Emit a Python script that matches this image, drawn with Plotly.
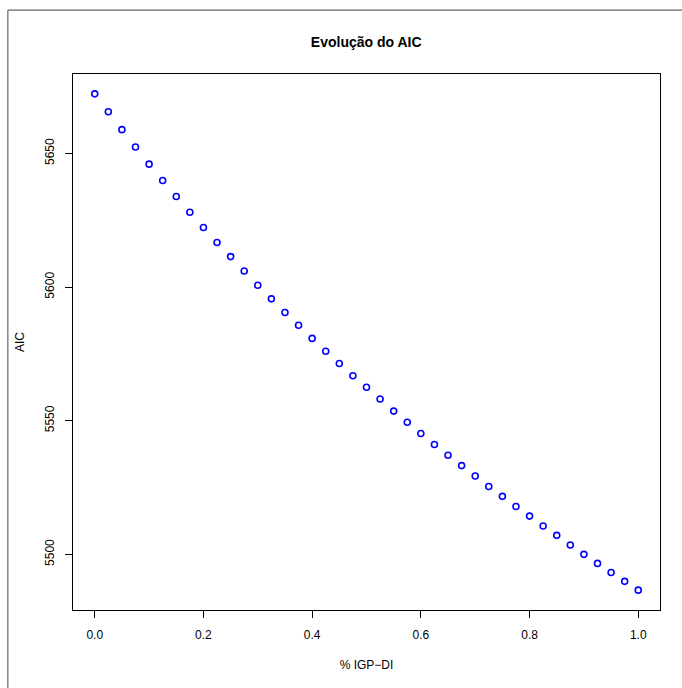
import plotly.graph_objects as go

# Data
igp_di = [i * 0.025 for i in range(41)]
aic = [5672.3, 5665.6, 5658.9, 5652.4, 5646.0, 5639.9, 5633.9, 5628.0, 5622.3, 5616.7,
       5611.4, 5606.0, 5600.7, 5595.6, 5590.5, 5585.7, 5580.8, 5576.0, 5571.4, 5566.8,
       5562.5, 5558.1, 5553.6, 5549.4, 5545.2, 5541.1, 5537.1, 5533.2, 5529.3, 5525.4,
       5521.7, 5517.9, 5514.3, 5510.6, 5507.1, 5503.5, 5500.0, 5496.6, 5493.2, 5489.9,
       5486.6]
x_ticks = [0.0, 0.2, 0.4, 0.6, 0.8, 1.0]
y_ticks = [5500, 5550, 5600, 5650]

FONT = "Liberation Sans, Arial, Helvetica, sans-serif"

fig = go.Figure()
fig.add_trace(go.Scatter(
    x=igp_di, y=aic, mode="markers",
    marker=dict(symbol="circle-open", size=6, color="#0000FF",
                line=dict(width=1.6, color="#0000FF")),
    showlegend=False,
))

xmin, xmax = min(igp_di), max(igp_di)
ymin, ymax = min(aic), max(aic)
dx = (xmax - xmin) * 0.04
dy = (ymax - ymin) * 0.04

axis_common = dict(
    showgrid=False, zeroline=False, showline=True, mirror=True,
    linecolor="black", linewidth=1.2, ticks="outside", ticklen=7,
    tickwidth=1, tickcolor="black",
    tickfont=dict(family=FONT, size=12, color="black"),
)

frame_line = dict(color="#666666", width=1.2)

fig.update_layout(
    width=682, height=688,
    margin=dict(l=73, r=22, t=74, b=78),
    paper_bgcolor="white", plot_bgcolor="white",
    title=dict(text="<b>Evolução do AIC</b>", x=0.537, xanchor="center",
               y=1 - 42 / 688, yanchor="middle",
               font=dict(family=FONT, size=14, color="black")),
    xaxis=dict(range=[xmin - dx, xmax + dx], tickvals=x_ticks,
               ticktext=[f"{v:.1f}" for v in x_ticks], ticklabelstandoff=6,
               title=dict(text="% IGP−DI", standoff=20,
                          font=dict(family=FONT, size=12, color="black")),
               **axis_common),
    yaxis=dict(range=[ymin - dy, ymax + dy], tickvals=y_ticks,
               ticktext=[str(v) for v in y_ticks], tickangle=-90,
               ticklabelstandoff=6,
               title=dict(text="AIC", standoff=15,
                          font=dict(family=FONT, size=12, color="black")),
               **axis_common),
    shapes=[
        dict(type="line", xref="paper", yref="paper",
             x0=-0.111, x1=1.2, y0=1.119, y1=1.119, line=frame_line, layer="below"),
        dict(type="line", xref="paper", yref="paper",
             x0=-0.111, x1=-0.111, y0=-0.3, y1=1.119, line=frame_line, layer="below"),
    ],
)

fig.write_html("out.html")
